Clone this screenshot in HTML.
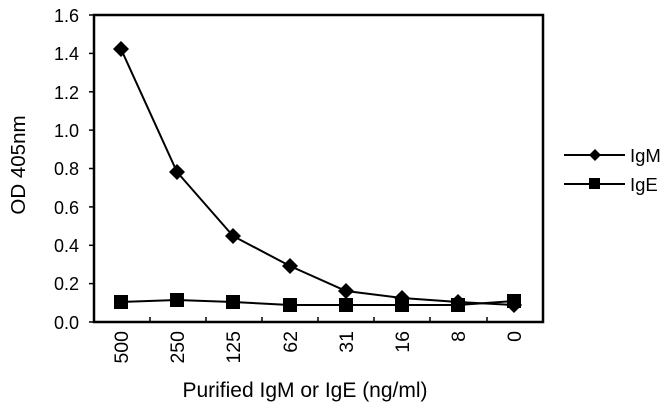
<!DOCTYPE html><html><head><style>body{margin:0;background:#fff}</style></head><body>
<svg width="670" height="404" xmlns="http://www.w3.org/2000/svg" font-family="Liberation Sans, Arial, sans-serif">
<rect x="94" y="15" width="449" height="307" fill="none" stroke="#000" stroke-width="2.5"/>
<g stroke="#000" stroke-width="1.5">
<line x1="89" y1="15" x2="94" y2="15"/><line x1="89" y1="53.4" x2="94" y2="53.4"/><line x1="89" y1="91.8" x2="94" y2="91.8"/><line x1="89" y1="130.1" x2="94" y2="130.1"/><line x1="89" y1="168.5" x2="94" y2="168.5"/><line x1="89" y1="206.9" x2="94" y2="206.9"/><line x1="89" y1="245.3" x2="94" y2="245.3"/><line x1="89" y1="283.6" x2="94" y2="283.6"/><line x1="89" y1="322" x2="94" y2="322"/>
<line x1="150" y1="317" x2="150" y2="322"/><line x1="206" y1="317" x2="206" y2="322"/><line x1="262" y1="317" x2="262" y2="322"/><line x1="318" y1="317" x2="318" y2="322"/><line x1="374" y1="317" x2="374" y2="322"/><line x1="430" y1="317" x2="430" y2="322"/><line x1="487" y1="317" x2="487" y2="322"/>
</g>
<g font-size="18" text-anchor="end">
<text x="79" y="22">1.6</text><text x="79" y="60">1.4</text><text x="79" y="99">1.2</text><text x="79" y="137">1.0</text><text x="79" y="175">0.8</text><text x="79" y="214">0.6</text><text x="79" y="252">0.4</text><text x="79" y="290">0.2</text><text x="79" y="329">0.0</text>
</g>
<g font-size="19.5" text-anchor="end">
<text transform="translate(128,331) rotate(-90)">500</text>
<text transform="translate(184,331) rotate(-90)">250</text>
<text transform="translate(240,331) rotate(-90)">125</text>
<text transform="translate(297,331) rotate(-90)">62</text>
<text transform="translate(353,331) rotate(-90)">31</text>
<text transform="translate(409,331) rotate(-90)">16</text>
<text transform="translate(465,331) rotate(-90)">8</text>
<text transform="translate(521,331) rotate(-90)">0</text>
</g>
<text x="305" y="397" font-size="21" text-anchor="middle">Purified IgM or IgE (ng/ml)</text>
<text transform="translate(25,165) rotate(-90)" font-size="20.5" text-anchor="middle">OD 405nm</text>
<polyline fill="none" stroke="#000" stroke-width="2" points="121,49 177,172 233,236 290,266 346,291 402,298 458,302 514,305"/>
<polyline fill="none" stroke="#000" stroke-width="2" points="121,302 177,300 233,302 290,305 346,305 402,305 458,305 514,301"/>
<g fill="#000">
<path d="M121,41 l8,8 -8,8 -8,-8z"/><path d="M177,164 l8,8 -8,8 -8,-8z"/><path d="M233,228 l8,8 -8,8 -8,-8z"/><path d="M290,258 l8,8 -8,8 -8,-8z"/><path d="M346,283 l8,8 -8,8 -8,-8z"/><path d="M402,290 l8,8 -8,8 -8,-8z"/><path d="M458,294 l8,8 -8,8 -8,-8z"/><path d="M514,297 l8,8 -8,8 -8,-8z"/>
<rect x="114" y="295" width="14" height="14"/><rect x="170" y="293" width="14" height="14"/><rect x="226" y="295" width="14" height="14"/><rect x="283" y="298" width="14" height="14"/><rect x="339" y="298" width="14" height="14"/><rect x="395" y="298" width="14" height="14"/><rect x="451" y="298" width="14" height="14"/><rect x="507" y="294" width="14" height="14"/>
</g>
<line x1="564" y1="155" x2="625" y2="155" stroke="#000" stroke-width="2"/>
<path d="M595,149 l6,6 -6,6 -6,-6z" fill="#000"/>
<line x1="564" y1="184" x2="625" y2="184" stroke="#000" stroke-width="2"/>
<rect x="589" y="178" width="11" height="11" fill="#000"/>
<text x="630" y="162" font-size="18.5">IgM</text>
<text x="630" y="191" font-size="18.5">IgE</text>
</svg>
</body></html>
